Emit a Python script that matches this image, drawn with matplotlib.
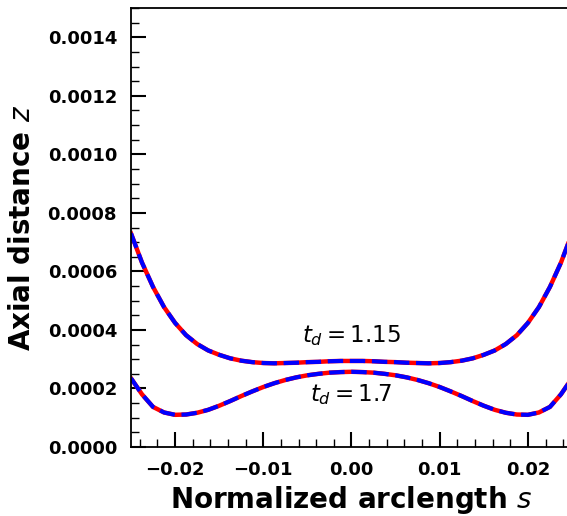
import numpy as np
import matplotlib
matplotlib.use('Agg')
from matplotlib import pyplot as plt
from matplotlib.ticker import MultipleLocator, FuncFormatter

# half-profile values (s >= 0), mirrored to the left
s_half = [0.0, 0.00125, 0.0025, 0.00375, 0.005, 0.00625, 0.0075, 0.00875,
          0.01, 0.01125, 0.0125, 0.01375, 0.015, 0.01625, 0.0175, 0.01875,
          0.02, 0.02125, 0.0225, 0.02375, 0.025]
z_115 = [0.000294, 0.000294, 0.000293, 0.000291, 0.00029, 0.000288, 0.000287, 0.000286,
         0.000287, 0.00029, 0.000295, 0.000303, 0.000315, 0.00033, 0.000352, 0.000382,
         0.000424, 0.000478, 0.000547, 0.00063, 0.00073]
z_17 = [0.000257, 0.000256, 0.000254, 0.00025, 0.000245, 0.000238, 0.000229, 0.000218,
        0.000205, 0.00019, 0.000174, 0.000157, 0.000141, 0.000127, 0.000117, 0.000111,
        0.00011, 0.000118, 0.000137, 0.00018, 0.000235]

s = np.concatenate([-np.array(s_half[:0:-1]), s_half])
z1 = np.concatenate([np.array(z_115[:0:-1]), z_115])
z2 = np.concatenate([np.array(z_17[:0:-1]), z_17])

fig = plt.figure(figsize=(5.67, 5.16), dpi=100)
ax = fig.add_axes([0.231, 0.1337, 0.7778, 0.8508])

# red = reference solution, blue dashed = comparison
ax.plot(s, z1, c='red', lw=3.2)
ax.plot(s, z1, c='blue', lw=3, ls='--')
ax.plot(s, z2, c='red', lw=3.2)
ax.plot(s, z2, c='blue', lw=3, ls='--')

ax.text(0.0, 0.00038, r'$t_d = 1.15$', fontsize=16.5, ha='center', va='center')
ax.text(0.0, 0.000178, r'$t_d = 1.7$', fontsize=16.5, ha='center', va='center')

ax.set_xlim(-0.025, 0.025)
ax.set_ylim(0, 0.0015)
ax.xaxis.set_major_locator(MultipleLocator(0.01))
ax.xaxis.set_minor_locator(MultipleLocator(0.002))
ax.yaxis.set_major_locator(MultipleLocator(0.0002))
ax.yaxis.set_minor_locator(MultipleLocator(0.00005))
ax.yaxis.set_major_formatter(FuncFormatter(lambda v, p: '%.4f' % abs(v)))
ax.xaxis.set_major_formatter(FuncFormatter(
    lambda v, p: ('%.2f' % v).replace('-0.00', '0.00').replace('-', '\u2212')))

ax.spines['right'].set_visible(False)
for sp in ['left', 'bottom', 'top']:
    ax.spines[sp].set_linewidth(1.3)
ax.tick_params(which='major', direction='in', length=11, width=1.5, pad=10,
               labelsize=13, top=False, right=False)
ax.tick_params(which='minor', direction='in', length=5.5, width=1, top=False, right=False)
for lab in ax.get_xticklabels() + ax.get_yticklabels():
    lab.set_fontweight('bold')

ax.set_xlabel(r'Normalized arclength $s$', fontsize=20, fontweight='bold', labelpad=4)
ax.set_ylabel(r'Axial distance $z$', fontsize=20, fontweight='bold', labelpad=8)

fig.savefig('out.png', dpi=100)
